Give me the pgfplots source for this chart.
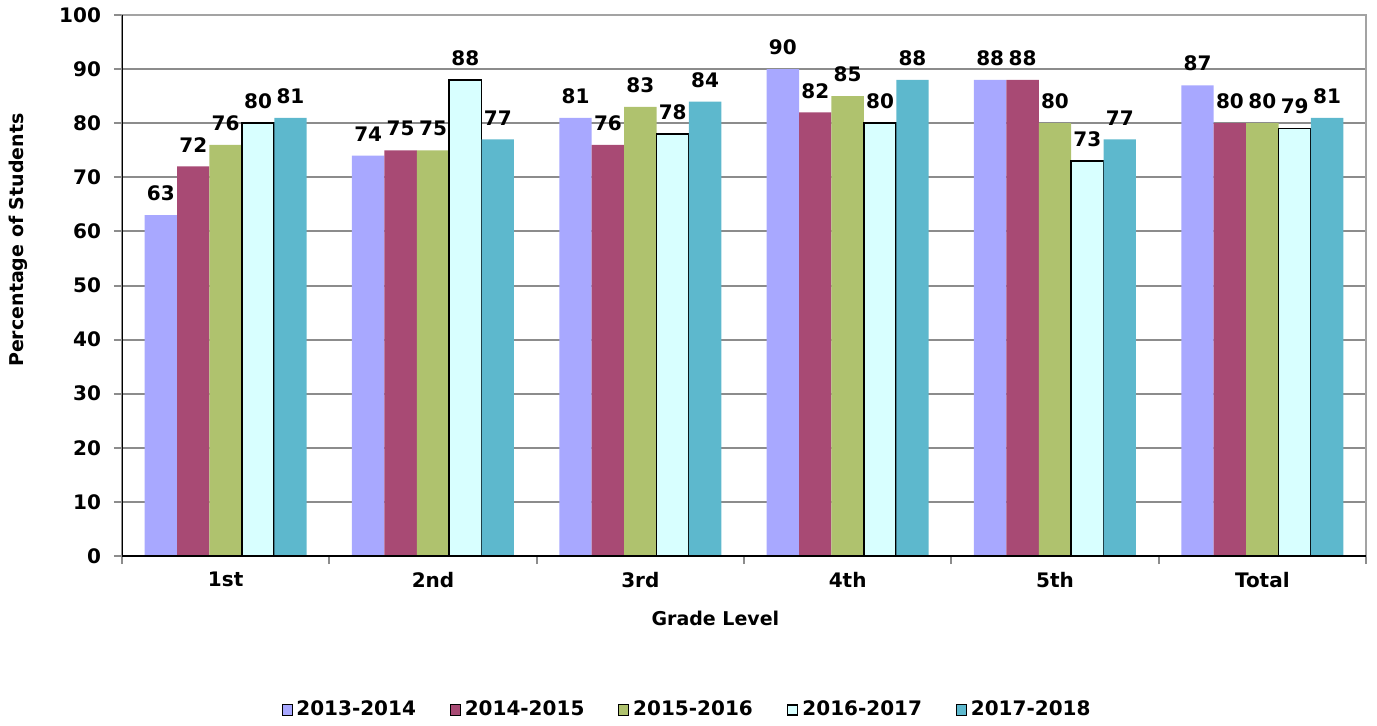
\documentclass[border=0pt]{standalone}
\usepackage{fontspec}
\setmainfont{DejaVu Sans}
\usepackage{pgfplots}
\pgfplotsset{compat=1.18}
\definecolor{cA}{HTML}{A8A8FF}
\definecolor{cB}{HTML}{A84A74}
\definecolor{cC}{HTML}{AFC26E}
\definecolor{cD}{HTML}{D8FFFF}
\definecolor{cE}{HTML}{5DB8CD}
\definecolor{gridc}{HTML}{8C8C8C}
\pgfplotsset{sq/.style={legend image code/.code={\draw[##1] (0pt,-2.6pt) rectangle (5pt,2.6pt);}}}
\begin{document}
\begin{tikzpicture}[font=\bfseries]
\useasboundingbox (-61pt,-84.5pt) rectangle (627.5pt,278pt);
\begin{axis}[
  scale only axis, width=622pt, height=270.5pt,
  ybar=0pt, bar width=16.2pt,
  xmin=-0.5, xmax=5.5, ymin=0, ymax=100,
  xtick={0,...,5}, xticklabels={1st,2nd,3rd,4th,5th,Total},
  major x tick style={draw=none},
  minor xtick={-0.5,0.5,...,5.5},
  ytick={0,10,...,100},
  ymajorgrids, grid style={gridc, line width=1pt},
  tick align=outside, tick pos=left,
  major tick length=4pt, minor tick length=4pt,
  tick style={gridc, line width=1pt},
  axis line style={gridc!80, line width=0.8pt},
  ticklabel style={font=\fontsize{10}{12}\selectfont\bfseries},
  xticklabel style={yshift=-0.5pt},
  yticklabel style={xshift=-3pt},
  /pgf/number format/assume math mode=true,
  nodes near coords,
  every node near coord/.append style={font=\fontsize{10}{12}\selectfont\bfseries, black, yshift=3.5pt},
  xlabel={Grade Level}, ylabel={Percentage of Students},
  label style={font=\fontsize{9.5}{11}\selectfont\bfseries},
  xlabel style={at={(axis description cs:0.477,-0.115)}, anchor=center},
  ylabel style={at={(axis description cs:-0.0836,0.584)}, anchor=center, rotate=0},
  legend columns=5,
  legend style={draw=none, fill=none, at={(0.455,-0.2847)}, anchor=center,
    font=\fontsize{10}{12}\selectfont\bfseries,
    /tikz/every even column/.append style={column sep=15pt}},
]
\addplot[fill=cA, draw=none, sq] coordinates {(0,63) (1,74) (2,81) (3,90) (4,88) (5,87)};
\addplot[fill=cB, draw=none, sq] coordinates {(0,72) (1,75) (2,76) (3,82) (4,88) (5,80)};
\addplot[fill=cC, draw=none, sq] coordinates {(0,76) (1,75) (2,83) (3,85) (4,80) (5,80)};
\addplot[fill=cD, draw=black, line width=0.8pt, sq] coordinates {(0,80) (1,88) (2,78) (3,80) (4,73) (5,79)};
\addplot[fill=cE, draw=none, sq] coordinates {(0,81) (1,77) (2,84) (3,88) (4,77) (5,81)};
\legend{2013-2014,2014-2015,2015-2016,2016-2017,2017-2018}
\draw[black, line width=1pt] (rel axis cs:0,1) -- (rel axis cs:0,0) -- (rel axis cs:1,0);
\end{axis}
\end{tikzpicture}
\end{document}
